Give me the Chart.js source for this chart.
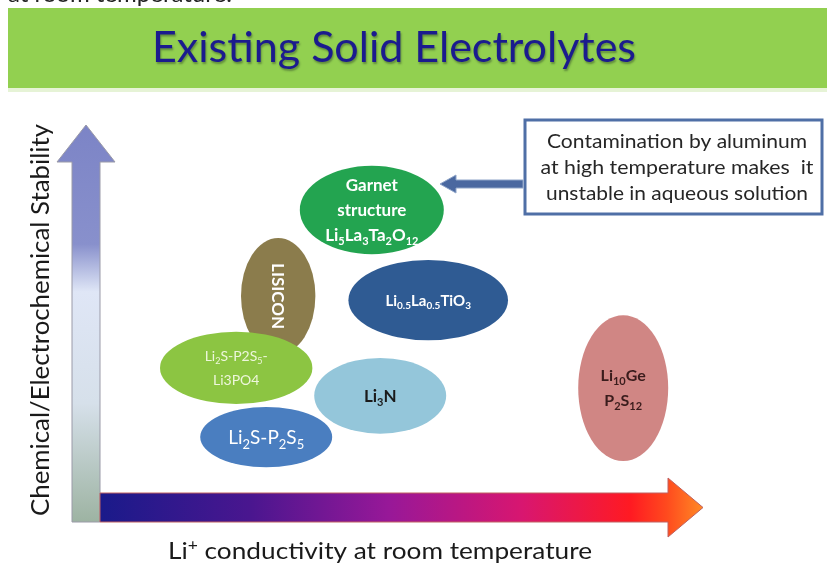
<!DOCTYPE html>
<html>
<head>
<meta charset="utf-8">
<script src="https://cdn.jsdelivr.net/npm/chart.js@4"></script>
<style>
html, body { margin: 0; padding: 0; background: #fff; }
</style>
</head>
<body>
<canvas id="canvas" width="827" height="567"></canvas>
<script>
// electrolyte families: {..} = subscript, ^{..} = superscript, | = new line
var names = ['LISICON', 'Garnet', 'LLTO', 'Li3N', 'LPS', 'LPS-LPO', 'LGPS'];
var labels = [
    'LISICON',
    'Garnet|structure|Li{5}La{3}Ta{2}O{12}',
    'Li{0.5}La{0.5}TiO{3}',
    'Li{3}N',
    'Li{2}S-P{2}S{5}',
    'Li{2}S-P2S{5}-|Li3PO4',
    'Li{10}Ge|P{2}S{12}'
];
// position on the diagram (relative units 0..10)
var conductivity = [2.97, 4.53, 5.47, 4.67, 2.77, 2.27, 8.72];
var stability = [5.35, 7.69, 5.24, 2.64, 1.52, 3.40, 2.85];
// spread of each family along both axes
var condSpread = [0.62, 1.2, 1.33, 1.1, 1.1, 1.27, 0.75];
var stabSpread = [1.58, 1.2, 1.09, 1.03, 0.82, 0.98, 1.98];

var titleText = 'Existing Solid Electrolytes';
var xTitle = 'Li^{+} conductivity at room temperature';
var yTitle = 'Chemical/Electrochemical Stability';
var noteLines = ['Contamination by aluminum', 'at high temperature makes  it', 'unstable in aqueous solution'];

var fills = ['#8b7c4c', '#23a450', '#2f5b93', '#94c6da', '#4a7ec0', '#8cc542', '#d08684'];
var textColors = ['#ffffff', '#ffffff', '#ffffff', '#1a1a1a', '#ffffff', '#eef6dc', '#3a1c1c'];
var textSizes = [17, 17, 15, 17, 19, 14, 16];
var lineGap = [0, 25, 0, 0, 0, 24, 25];
var textBold = [true, true, true, true, false, false, true];
var FONT = 'Lato';

function parseRich(s) {
    var segs = [];
    var i = 0;
    while (i < s.length) {
        var b = s.indexOf('{', i);
        if (b < 0) { segs.push({ t: s.slice(i), k: 0 }); break; }
        var pre = s.slice(i, b);
        var k = 1;
        if (pre.endsWith('^')) { pre = pre.slice(0, -1); k = 2; }
        if (pre) segs.push({ t: pre, k: 0 });
        var e = s.indexOf('}', b);
        segs.push({ t: s.slice(b + 1, e), k: k });
        i = e + 1;
    }
    return segs;
}

function richWidth(ctx, segs, size, weight) {
    var w = 0;
    segs.forEach(function (sg) {
        ctx.font = weight + ' ' + (sg.k ? Math.round(size * 0.66) : size) + 'px ' + FONT;
        w += ctx.measureText(sg.t).width;
    });
    return w;
}

// draws a line with sub/superscripts centred at cx, cy; optional target width squeezes it
function drawRich(ctx, s, cx, cy, size, weight, color, width) {
    var segs = parseRich(s);
    var w = richWidth(ctx, segs, size, weight);
    var sx = width ? width / w : 1;
    ctx.save();
    ctx.translate(cx, cy + size * 0.36);
    ctx.scale(sx, 1);
    var x = -w / 2;
    ctx.fillStyle = color;
    ctx.textBaseline = 'alphabetic';
    ctx.textAlign = 'left';
    segs.forEach(function (sg) {
        ctx.font = weight + ' ' + (sg.k ? Math.round(size * 0.66) : size) + 'px ' + FONT;
        var dy = sg.k === 1 ? size * 0.25 : (sg.k === 2 ? -size * 0.36 : 0);
        ctx.fillText(sg.t, x, dy);
        x += ctx.measureText(sg.t).width;
    });
    ctx.restore();
}

function fitText(ctx, text, cx, base, size, weight, width, color) {
    ctx.font = weight + ' ' + size + 'px ' + FONT;
    var m = ctx.measureText(text).width;
    ctx.save();
    ctx.translate(cx, base);
    ctx.scale(width / m, 1);
    ctx.fillStyle = color;
    ctx.textAlign = 'center';
    ctx.textBaseline = 'alphabetic';
    ctx.fillText(text, 0, 0);
    ctx.restore();
}

var diagram = {
    id: 'diagram',
    beforeDraw: function (chart) {
        var ctx = chart.ctx, a = chart.chartArea;
        ctx.save();
        ctx.fillStyle = '#ffffff';
        ctx.fillRect(0, 0, chart.width, chart.height);

        // cut-off line of the page above
        ctx.font = '24px ' + FONT;
        ctx.fillStyle = '#222';
        ctx.textAlign = 'left';
        ctx.textBaseline = 'alphabetic';
        ctx.fillText('at room temperature.', 8, 2);

        // banner
        ctx.fillStyle = '#e6f3d6';
        ctx.fillRect(8, 88, chart.width - 8, 4);
        ctx.fillStyle = '#92d050';
        ctx.fillRect(8, 8, chart.width - 8, 80);
        ctx.save();
        ctx.shadowColor = 'rgba(40,60,40,0.45)';
        ctx.shadowOffsetX = 1;
        ctx.shadowOffsetY = 2;
        ctx.shadowBlur = 2;
        fitText(ctx, titleText, 394, 62, 42, 'normal', 484, '#1b1b8e');
        ctx.restore();

        // vertical arrow (stability)
        var sx0 = a.left - 28, sx1 = a.left, bot = a.bottom + 29, headBase = a.top + 37;
        var g = ctx.createLinearGradient(0, a.top, 0, bot);
        g.addColorStop(0, '#7c84c6');
        g.addColorStop(0.3, '#8890cc');
        g.addColorStop(0.42, '#dfe6f6');
        g.addColorStop(0.7, '#d6e0ea');
        g.addColorStop(1, '#9db3a2');
        ctx.fillStyle = g;
        ctx.strokeStyle = '#9a9aa8';
        ctx.lineWidth = 1;
        ctx.beginPath();
        ctx.moveTo(sx0, bot);
        ctx.lineTo(sx0, headBase);
        ctx.lineTo(sx0 - 15, headBase);
        ctx.lineTo((sx0 + sx1) / 2, a.top);
        ctx.lineTo(sx1 + 15, headBase);
        ctx.lineTo(sx1, headBase);
        ctx.lineTo(sx1, bot);
        ctx.closePath();
        ctx.fill();
        ctx.stroke();

        // horizontal arrow (conductivity)
        var y0 = a.bottom, y1 = a.bottom + 29, headX = a.right - 32, tip = a.right + 3;
        var h = ctx.createLinearGradient(a.left, 0, tip, 0);
        h.addColorStop(0, '#1a1a8a');
        h.addColorStop(0.25, '#4a168f');
        h.addColorStop(0.48, '#981898');
        h.addColorStop(0.7, '#d81670');
        h.addColorStop(0.88, '#ff1a22');
        h.addColorStop(0.94, '#ff4a1e');
        h.addColorStop(1, '#ff8a24');
        ctx.fillStyle = h;
        ctx.strokeStyle = '#c06060';
        ctx.beginPath();
        ctx.moveTo(a.left, y0);
        ctx.lineTo(headX, y0);
        ctx.lineTo(headX, y0 - 15);
        ctx.lineTo(tip, (y0 + y1) / 2);
        ctx.lineTo(headX, y1 + 15);
        ctx.lineTo(headX, y1);
        ctx.lineTo(a.left, y1);
        ctx.closePath();
        ctx.fill();
        ctx.stroke();

        // axis titles
        drawRich(ctx, xTitle, 380, 550, 24, 'normal', '#1a1a1a', 424);
        ctx.save();
        ctx.translate(49, 320);
        ctx.rotate(-Math.PI / 2);
        fitText(ctx, yTitle, 0, 0, 25, 'normal', 392, '#1a1a1a');
        ctx.restore();

        // note box with arrow
        ctx.fillStyle = '#ffffff';
        ctx.fillRect(525, 120, 297, 94);
        ctx.strokeStyle = '#4f6fa6';
        ctx.lineWidth = 3;
        ctx.strokeRect(525, 120, 297, 94);
        var noteW = [260, 273, 262];
        noteLines.forEach(function (t, i) {
            fitText(ctx, t, 677, 148 + i * 26, 19, 'normal', noteW[i], '#262626');
        });
        ctx.fillStyle = '#4a68a0';
        ctx.strokeStyle = '#8ea4c8';
        ctx.lineWidth = 1;
        ctx.beginPath();
        ctx.moveTo(523, 180);
        ctx.lineTo(456, 180);
        ctx.lineTo(456, 175);
        ctx.lineTo(440, 184);
        ctx.lineTo(456, 193);
        ctx.lineTo(456, 188);
        ctx.lineTo(523, 188);
        ctx.closePath();
        ctx.fill();
        ctx.stroke();
        ctx.restore();
    },
    afterDatasetsDraw: function (chart) {
        var ctx = chart.ctx, xs = chart.scales.x, ys = chart.scales.y;
        var meta = chart.getDatasetMeta(0);
        ctx.save();
        meta.data.forEach(function (pt, i) {
            var rx = Math.abs(xs.getPixelForValue(conductivity[i] + condSpread[i]) - pt.x);
            var ry = Math.abs(ys.getPixelForValue(stability[i] + stabSpread[i]) - pt.y);
            ctx.fillStyle = fills[i];
            ctx.beginPath();
            ctx.ellipse(pt.x, pt.y, rx, ry, 0, 0, Math.PI * 2);
            ctx.fill();
            var w = textBold[i] ? 'bold' : 'normal';
            if (names[i] === 'LISICON') {
                ctx.save();
                ctx.translate(pt.x, pt.y);
                ctx.rotate(Math.PI / 2);
                drawRich(ctx, labels[i], 0, 0, textSizes[i], w, textColors[i]);
                ctx.restore();
                return;
            }
            var lines = labels[i].split('|');
            lines.forEach(function (ln, j) {
                var cy = pt.y + (j - (lines.length - 1) / 2) * lineGap[i];
                drawRich(ctx, ln, pt.x, cy, textSizes[i], w, textColors[i]);
            });
        });
        ctx.restore();
    }
};

new Chart(document.getElementById('canvas').getContext('2d'), {
    type: 'scatter',
    data: {
        labels: names,
        datasets: [{
            data: conductivity.map(function (c, i) { return { x: c, y: stability[i] }; }),
            pointRadius: 0,
            pointHoverRadius: 0
        }]
    },
    options: {
        responsive: false,
        animation: false,
        events: [],
        layout: { padding: { left: 100, right: 127, top: 125, bottom: 74 } },
        scales: {
            x: { min: 0, max: 10, display: false },
            y: { min: 0, max: 10, display: false }
        },
        plugins: { legend: { display: false }, tooltip: { enabled: false } }
    },
    plugins: [diagram]
});
</script>
</body>
</html>
